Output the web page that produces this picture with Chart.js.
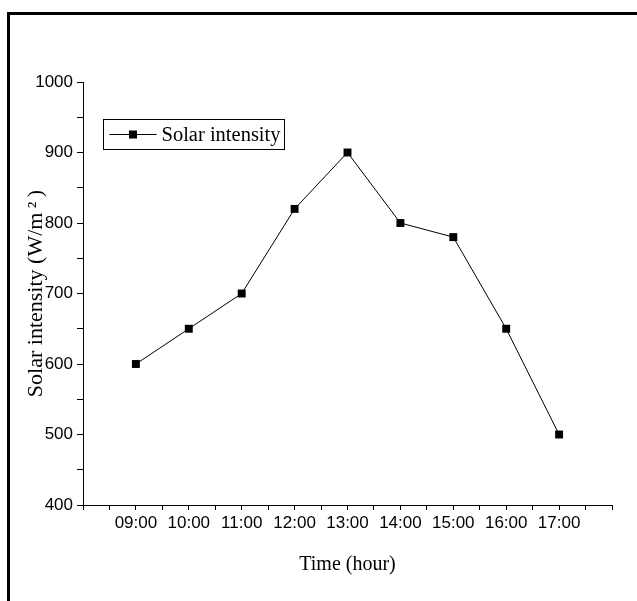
<!DOCTYPE html>
<html>
<head>
<meta charset="utf-8">
<script src="https://cdn.jsdelivr.net/npm/chart.js@4"></script>
<style>
    html, body { margin: 0; padding: 0; background: #fff; overflow: hidden; }
    #wrap { position: relative; width: 637px; height: 601px; }
    #frame { position: absolute; left: 7px; top: 12px; width: 700px; height: 700px;
             border-left: 3px solid #000; border-top: 3px solid #000; }
    canvas { position: absolute; left: 0; top: 0; }
</style>
</head>
<body>
<div id="wrap">
    <div id="frame"></div>
    <canvas id="solarChart" width="637" height="601"></canvas>
</div>
<script>
// Chart values
const hours = ['09:00', '10:00', '11:00', '12:00', '13:00', '14:00', '15:00', '16:00', '17:00'];
const solarIntensity = [600, 650, 700, 820, 900, 800, 780, 650, 500];
const yTicks = [400, 500, 600, 700, 800, 900, 1000];

const points = solarIntensity.map((v, i) => ({ x: i + 1, y: v }));

// Boxed legend drawn inside the plot area, like the original figure
const boxLegend = {
    id: 'boxLegend',
    afterDraw(chart) {
        const ctx = chart.ctx;
        const area = chart.chartArea;
        const ds = chart.data.datasets[0];
        const x0 = Math.round(area.left + 20) + 0.5;
        const y0 = Math.round(area.top + 37) + 0.5;
        const w = 181, h = 30;
        const cy = y0 + h / 2;

        ctx.save();
        ctx.strokeStyle = '#000';
        ctx.lineWidth = 1;
        ctx.strokeRect(x0, y0, w, h);

        ctx.beginPath();
        ctx.moveTo(x0 + 6, cy);
        ctx.lineTo(x0 + 53, cy);
        ctx.stroke();

        ctx.fillStyle = '#000';
        ctx.fillRect(x0 + 25.5, cy - 4, 8, 8);

        ctx.font = '20.5px "Liberation Serif"';
        ctx.textBaseline = 'middle';
        ctx.textAlign = 'left';
        ctx.fillText(ds.label, x0 + 58, cy + 1);
        ctx.restore();
    }
};

const ctx = document.getElementById('solarChart').getContext('2d');

new Chart(ctx, {
    type: 'line',
    data: {
        datasets: [{
            label: 'Solar intensity',
            data: points,
            borderColor: '#000',
            borderWidth: 1,
            backgroundColor: '#000',
            pointStyle: 'rect',
            pointRadius: 5.6,
            pointHoverRadius: 5.6,
            pointBorderWidth: 0,
            tension: 0
        }]
    },
    options: {
        responsive: false,
        animation: false,
        layout: { padding: { top: 82, right: 25, left: 0, bottom: 0 } },
        plugins: {
            legend: { display: false },
            tooltip: { enabled: false }
        },
        scales: {
            x: {
                type: 'linear',
                min: 0,
                max: 10,
                afterFit(scale) { scale.height = 96; },
                border: { display: true, color: '#000', width: 1 },
                grid: { drawOnChartArea: false, color: '#000', tickLength: 5, tickWidth: 1 },
                ticks: {
                    stepSize: 0.5,
                    autoSkip: false,
                    maxRotation: 0,
                    padding: 3,
                    color: '#000',
                    font: { family: 'Liberation Sans', size: 17 },
                    callback(value) {
                        const i = Math.round(value * 2) / 2;
                        if (Number.isInteger(i) && i >= 1 && i <= hours.length) return hours[i - 1];
                        return '';
                    }
                },
                title: {
                    display: true,
                    text: 'Time (hour)',
                    color: '#000',
                    font: { family: 'Liberation Serif', size: 20 },
                    padding: { top: 0, bottom: 24 }
                }
            },
            y: {
                min: 400,
                max: 1000,
                afterFit(scale) { scale.width = 83; },
                border: { display: true, color: '#000', width: 1 },
                grid: { drawOnChartArea: false, color: '#000', tickLength: 6, tickWidth: 1 },
                ticks: {
                    stepSize: 50,
                    autoSkip: false,
                    padding: 4,
                    color: '#000',
                    font: { family: 'Liberation Sans', size: 17 },
                    callback(value) {
                        return yTicks.includes(value) ? String(value) : '';
                    }
                },
                title: {
                    display: true,
                    text: 'Solar intensity (W/m\u2009\u00B2\u2009)',
                    color: '#000',
                    font: { family: 'Liberation Serif', size: 22 },
                    padding: { top: 23, bottom: 0 }
                }
            }
        }
    },
    plugins: [boxLegend]
});
</script>
</body>
</html>
